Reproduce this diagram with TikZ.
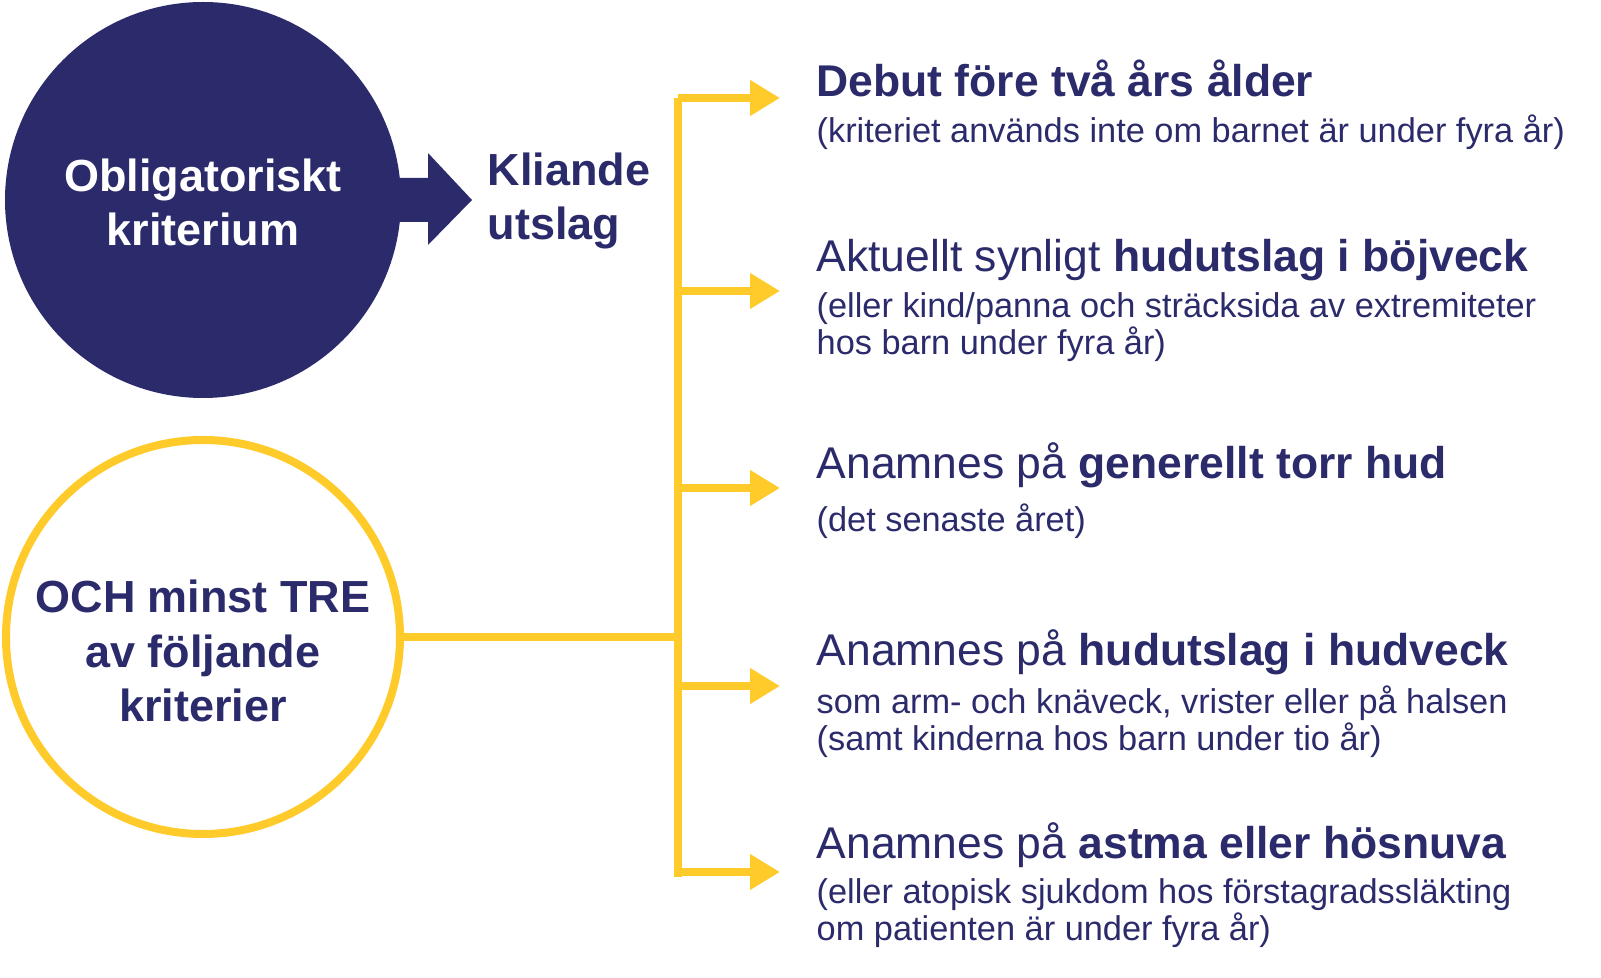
\documentclass[tikz,border=0pt]{standalone}
\usepackage{fontspec}
\setmainfont{Liberation Sans}
\usetikzlibrary{positioning}
\usetikzlibrary{shapes, arrows.meta}
\definecolor{navy}{HTML}{2B2A6B}
\definecolor{gul}{HTML}{FFCB2B}
\tikzset{
  head/.style={anchor=base west, inner sep=0pt, text=navy, font=\fontsize{12.65}{14}\selectfont},
  sub/.style={anchor=base west, inner sep=0pt, text=navy, align=left, font=\fontsize{9.77}{10.8}\selectfont},
  gren/.style={draw=gul, line width=0.08cm, -{Triangle[width=0.34cm, length=0.3cm]}}
}
\begin{document}
\begin{tikzpicture}
\useasboundingbox (0,0) rectangle (16.01,9.78);
% vänstra cirklarna
\node[circle, fill=navy, minimum size=3.96cm, inner sep=0pt] (oblig) at (2.03,7.78) {};
\node[text=white, align=center, font=\bfseries\fontsize{12.8}{15.4}\selectfont] (obligtxt) at (2.03,7.76) {Obligatoriskt\\kriterium};
\node[circle, draw=gul, line width=0.08cm, minimum size=3.94cm, inner sep=0pt] (minst) at (2.03,3.41) {};
\node[text=navy, align=center, font=\bfseries\fontsize{12.8}{15.4}\selectfont] (minsttxt) at (2.03,3.27) {OCH minst TRE\\av följande\\kriterier};
% blå pil
\fill[navy] (4.00,8.00) -- (4.28,8.00) -- (4.28,8.25) -- (4.72,7.78) -- (4.28,7.33) -- (4.28,7.56) -- (4.00,7.56) -- cycle;
\node[anchor=base west, inner sep=0pt, text=navy, align=left, font=\bfseries\fontsize{12.8}{15.4}\selectfont] (klia) at (4.87,7.38) {Kliande\\utslag};
% gul stam
\coordinate (top) at (6.78,8.80);
\coordinate (bot) at (6.78,1.01);
\coordinate (mitt) at (6.78,3.41);
\draw[gul, line width=0.08cm] (top) -- (bot);
\draw[gul, line width=0.08cm] (minst.east) -- (mitt);
% grenar
\foreach \n/\y in {a/8.80, b/6.87, c/4.90, d/2.92, e/1.06}{
  \coordinate (s\n) at (6.78,\y);
  \coordinate (t\n) at (7.80,\y);
  \draw[gren] (s\n) -- (t\n);
}
% kriterier
\node[head] (k1) at (8.16,8.81) {\textbf{Debut före två års ålder}};
\node[sub] (k1s) at (8.16,8.35) {(kriteriet används inte om barnet är under fyra år)};
\node[head] (k2) at (8.16,7.06) {Aktuellt synligt \textbf{hudutslag i böjveck}};
\node[sub] (k2s) at (8.16,6.23) {(eller kind/panna och sträcksida av extremiteter\\hos barn under fyra år)};
\node[head] (k3) at (8.16,4.99) {Anamnes på \textbf{generellt torr hud}};
\node[sub] (k3s) at (8.16,4.46) {(det senaste året)};
\node[head] (k4) at (8.16,3.12) {Anamnes på \textbf{hudutslag i hudveck}};
\node[sub] (k4s) at (8.16,2.27) {som arm- och knäveck, vrister eller på halsen\\(samt kinderna hos barn under tio år)};
\node[head] (k5) at (8.16,1.19) {Anamnes på \textbf{astma eller hösnuva}};
\node[sub] (k5s) at (8.16,0.37) {(eller atopisk sjukdom hos förstagradssläkting\\om patienten är under fyra år)};
\end{tikzpicture}
\end{document}
